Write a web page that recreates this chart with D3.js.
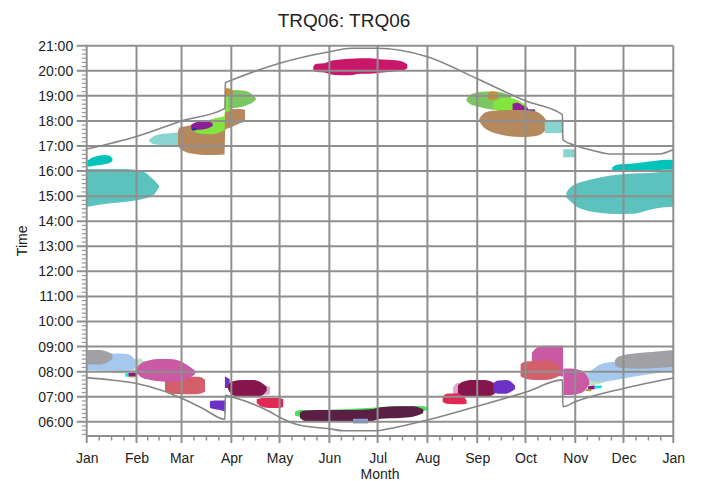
<!DOCTYPE html>
<html><head><meta charset="utf-8">
<script src="https://cdn.jsdelivr.net/npm/d3@7"></script>
<style>
body{margin:0;background:#fff}
text{font-family:"Liberation Sans",Arial,Helvetica,sans-serif;fill:#222}
</style>
</head><body>
<svg id="chart" width="702" height="481"></svg>
<script>
// ---------- data ----------
const title = "TRQ06: TRQ06";
const monthLabels = ["Jan","Feb","Mar","Apr","May","Jun","Jul","Aug","Sep","Oct","Nov","Dec","Jan"];
const hourTicks = [6,7,8,9,10,11,12,13,14,15,16,17,18,19,20,21];

// [day of year, hour]
const sunset = [[0,16.88],[31,17.38],[59,18.0],[86,18.5],[86.3,19.52],[90,19.62],[120,20.3],[151,20.76],[165,20.9],[181,20.9],[195,20.82],[212,20.56],[243,19.68],[273,18.8],[296,18.25],[296.3,17.25],[304,17.02],[315,16.82],[327,16.68],[356,16.68],[365,16.86]];
const sunrise = [[0,7.76],[15,7.67],[31,7.53],[46,7.27],[59,6.94],[72,6.54],[86,6.1],[86.3,7.06],[90,7.0],[114,6.4],[120,6.18],[132,5.87],[151,5.72],[160,5.64],[180,5.64],[188,5.72],[212,6.07],[243,6.62],[274,7.2],[296,7.67],[296.3,6.6],[304,6.8],[334,7.33],[365,7.75]];

// glare periods: [day of year, start hour, end hour]
const eveJanTeal = [[0,14.57,16.08],[10,14.68,16.08],[20,14.75,16.08],[27,14.8,16.07],[33,14.86,16.0],[37.3,14.93,15.9],[39.4,14.98,15.77],[42.5,15.11,15.6],[43.6,15.2,15.52],[45,15.36,15.42]];
const eveJanCyan = [[0.4,16.17,16.41],[4,16.2,16.55],[8,16.24,16.62],[11,16.27,16.64],[14.5,16.33,16.6],[16,16.4,16.5]];
const eveFebLightTeal = [[39,17.17,17.26],[42,17.07,17.4],[47,17.04,17.48],[53,17.04,17.52],[58,17.05,17.55],[61,17.1,17.55]];
const eveMarBrown = [[56.8,17.0,17.6],[58,16.9,17.75],[61,16.78,17.78],[67,16.68,17.85],[74,16.64,17.9],[80,16.64,17.95],[85.8,16.66,18.0],[86.2,17.66,18.46],[90,17.75,18.48],[95,17.9,18.48],[98.5,17.97,18.45]];
const eveMarGreen = [[66,17.6,17.72],[70,17.5,17.9],[77,17.47,18.06],[83,17.55,18.15],[85.8,17.65,18.2],[86.2,18.35,18.95],[89,18.4,18.92],[90,18.55,18.8]];
const eveMarPurple = [[65,17.68,17.85],[68,17.64,17.95],[72,17.66,17.98],[76,17.72,17.98],[78.4,17.8,17.9]];
const eveMarBlue = [[65.5,17.62,17.72],[68,17.62,17.7]];
const eveAprLightGreen = [[88,18.5,19.15],[92,18.52,19.23],[98.5,18.6,19.2],[103,18.72,19.05],[105.3,18.85,18.9]];
const eveAprGold = [[86.2,18.95,19.3],[88,18.97,19.3],[91,19.0,19.2]];
const eveJunCrimson = [[141,20.0,20.18],[143,19.95,20.28],[148,19.93,20.3],[152,19.85,20.4],[158,19.82,20.45],[164,19.82,20.48],[170,19.88,20.5],[176,19.88,20.5],[184,19.93,20.45],[192,19.98,20.42],[197,20.02,20.35],[199.5,20.1,20.25]];
const eveSepLightGreen = [[236.4,18.78,18.88],[239,18.65,19.05],[243,18.58,19.13],[248,18.5,19.17],[254,18.45,19.17],[260,18.45,19.1],[264,18.5,19.0]];
const eveSepGold = [[249.5,18.88,19.1],[252,18.83,19.18],[256,18.9,19.12]];
const eveSepGreen = [[253,18.5,18.72],[256,18.4,18.85],[260,18.32,18.92],[265,18.28,18.9],[270,18.3,18.75],[274.6,18.42,18.55]];
const eveSepPurple = [[265,18.42,18.68],[268,18.32,18.72],[271,18.3,18.62],[275,18.28,18.48]];
const eveSepBlue = [[275,18.3,18.46],[279,18.3,18.46]];
const eveSepBrown = [[244.3,17.98,18.1],[247,17.75,18.3],[250,17.62,18.38],[255,17.5,18.42],[262,17.4,18.44],[270,17.36,18.44],[277,17.38,18.42],[282,17.45,18.3],[285,17.6,18.12],[287.2,17.8,17.9]];
const eveOctLightTeal = [[285,17.52,18.0],[290,17.52,18.05],[296.5,17.52,18.05]];
const eveNovLightTeal = [[296.5,16.55,16.87],[304,16.55,16.87]];
const eveNovTeal = [[298.5,14.95,15.15],[301,14.8,15.35],[305,14.58,15.5],[310,14.45,15.6],[320,14.33,15.75],[330,14.29,15.85],[340,14.3,15.9],[350,14.45,15.92],[358,14.55,15.96],[365,14.58,15.97]];
const eveNovCyan = [[327,16.0,16.15],[330,15.97,16.25],[340,15.97,16.3],[350,16.0,16.38],[358,16.05,16.44],[365,16.05,16.45]];

const mornJanPaleGreen = [[16,7.95,8.02],[24,7.93,8.3],[28,7.93,8.5],[33,7.96,8.52],[36.3,8.1,8.35]];
const mornJanLightBlue = [[0,8.06,8.3],[12,8.04,8.6],[17,8.04,8.72],[25,8.04,8.7],[29,8.1,8.55],[30.5,8.2,8.38]];
const mornJanGray = [[0.4,8.3,8.86],[8,8.28,8.86],[12.5,8.35,8.8],[16,8.5,8.7]];
const mornFebRose = [[48.7,7.25,7.65],[52,7.12,7.72],[60,7.1,7.78],[68,7.1,7.8],[71,7.13,7.78],[73.6,7.2,7.68]];
const mornFebPink = [[31,7.95,8.15],[34,7.78,8.33],[39,7.68,8.45],[45,7.62,8.5],[52,7.6,8.5],[58,7.62,8.42],[63,7.72,8.25],[67.4,7.9,8.05]];
const mornJanCyan = [[24,7.8,7.93],[26,7.8,7.93]];
const mornJanMagenta = [[26,7.8,7.95],[31,7.8,7.95]];
const mornJanOlive = [[27,7.77,7.82],[31,7.77,7.82]];
const mornMarViolet = [[76.7,6.55,6.82],[80,6.5,6.85],[84,6.45,6.85],[86,6.4,6.85]];
const mornAprViolet = [[86,7.35,7.82],[89,7.35,7.7]];
const mornAprLightPink = [[108,7.05,7.45],[114,7.1,7.4]];
const mornAprMaroon = [[88,7.3,7.5],[91,7.05,7.62],[97,7.0,7.67],[104,7.0,7.67],[109,7.05,7.55],[112,7.25,7.4]];
const mornAprRed = [[105.8,6.75,6.9],[109,6.6,6.95],[114,6.55,6.95],[120,6.55,6.95],[122.3,6.6,6.9]];
const mornJunGreen = [[129.6,6.25,6.4],[133,6.2,6.47],[150,6.2,6.48],[175,6.25,6.55],[195,6.3,6.63],[208,6.4,6.63],[212.6,6.48,6.58]];
const mornJunDark = [[132.7,6.15,6.38],[136,6.03,6.45],[150,6.0,6.47],[165,6.0,6.47],[177,6.02,6.5],[183,6.12,6.58],[195,6.15,6.62],[203,6.2,6.62],[209.4,6.35,6.5]];
const mornJunBlue = [[165.7,5.93,6.12],[175,5.93,6.12]];
const mornAugLightPink = [[228,7.15,7.4],[231,7.1,7.55],[236,7.15,7.55]];
const mornAugMaroon = [[231,7.15,7.45],[234,7.02,7.6],[240,7.0,7.67],[247,7.0,7.67],[252,7.05,7.6],[255,7.2,7.45]];
const mornAugRed = [[221.5,6.8,7.0],[224,6.72,7.12],[230,6.7,7.14],[234,6.7,7.05],[236.4,6.72,6.85]];
const mornSepViolet = [[253,7.2,7.55],[256,7.12,7.65],[261,7.12,7.67],[264,7.2,7.6],[266.5,7.3,7.45]];
const mornOctPink = [[277,8.35,8.75],[280,8.2,8.95],[284,8.0,9.03],[290,7.9,9.03],[296.4,7.8,9.03]];
const mornOctRose = [[270,7.82,8.3],[273,7.72,8.4],[280,7.67,8.42],[287,7.68,8.45],[294.5,7.85,8.2]];
const mornNovPaleGreen = [[308,7.5,7.9],[313,7.45,7.98],[318,7.5,8.0],[323,7.6,7.95]];
const mornNovLightBlue = [[311,7.72,7.9],[315,7.62,8.1],[320,7.6,8.3],[330,7.68,8.4],[340,7.8,8.45],[350,7.9,8.55],[358,7.98,8.6],[365,8.02,8.6]];
const mornDecGray = [[328.7,8.3,8.45],[331,8.17,8.6],[342,8.12,8.73],[355,8.15,8.8],[365,8.2,8.86]];
const mornNovPink = [[296.6,7.07,8.13],[301,7.07,8.13],[306,7.12,8.08],[310,7.25,7.95],[312.7,7.5,7.65]];
const mornNovCyan = [[316,7.32,7.44],[320.5,7.35,7.45]];
const mornNovMagenta = [[312,7.28,7.42],[316,7.3,7.45]];
const mornNovOlive = [[310.5,7.22,7.3],[314,7.22,7.3]];

// drawing order (back to front) with colours
const layers = [
  [eveJanTeal,"#5bc2bd"],[eveJanCyan,"#00c3b9"],
  [eveFebLightTeal,"#88d4ce"],[eveMarBrown,"#b5885e"],[eveMarGreen,"#82e53c"],[eveMarPurple,"#8c1f98"],[eveMarBlue,"#2233aa"],
  [eveAprLightGreen,"#7dc763"],[eveAprGold,"#c8902c"],
  [eveJunCrimson,"#c9176a"],
  [eveSepLightGreen,"#7dc763"],[eveSepGold,"#c8902c"],[eveSepGreen,"#82e53c"],[eveSepPurple,"#8c1f98"],[eveSepBlue,"#2233aa"],[eveSepBrown,"#b5885e"],
  [eveOctLightTeal,"#88d4ce"],[eveNovLightTeal,"#88d4ce"],[eveNovTeal,"#5bc2bd"],[eveNovCyan,"#00c3b9"],
  [mornJanPaleGreen,"#c2e2bf"],[mornJanLightBlue,"#a5c9ee"],[mornJanGray,"#a0a0a5"],[mornFebRose,"#d25f6a"],[mornFebPink,"#c95aa3"],
  [mornJanCyan,"#00e8f0"],[mornJanMagenta,"#8a1a7a"],[mornJanOlive,"#a0a030"],
  [mornMarViolet,"#6c32c8"],[mornAprViolet,"#6c32c8"],[mornAprLightPink,"#e1a7d1"],[mornAprMaroon,"#85154c"],[mornAprRed,"#e02a55"],
  [mornJunGreen,"#44e35a"],[mornJunDark,"#5b1e45"],[mornJunBlue,"#7fa7dc"],
  [mornAugLightPink,"#e1a7d1"],[mornAugMaroon,"#85154c"],[mornAugRed,"#e02a55"],[mornSepViolet,"#6c32c8"],
  [mornOctPink,"#c95aa3"],[mornOctRose,"#d25f6a"],
  [mornNovPaleGreen,"#c2e2bf"],[mornNovLightBlue,"#a5c9ee"],[mornDecGray,"#a0a0a5"],[mornNovPink,"#c95aa3"],
  [mornNovCyan,"#00e8f0"],[mornNovMagenta,"#8a1a7a"],[mornNovOlive,"#a0a030"]
];

// ---------- chart ----------
const svg = d3.select("#chart");
const L = 86.7, R = 673.3, T = 45.7, B = 436;
const t0 = new Date(Date.UTC(2023,0,1)), t1 = new Date(Date.UTC(2024,0,1));
const toDate = d => new Date(t0.getTime() + d*864e5);
const x = d3.scaleUtc().domain([t0,t1]).range([L,R]);
const y = d3.scaleLinear().domain([5 + 26/60, 21]).range([B,T]);
const gridCol = "#8f8f8f";

const monthStarts = d3.utcMonth.range(t0, d3.utcDay.offset(t1,1));

// glare areas
const area = d3.area().x(d=>x(toDate(d[0]))).y0(d=>y(d[1])).y1(d=>y(d[2])).curve(d3.curveMonotoneX);
svg.append("g").selectAll("path").data(layers).join("path")
  .attr("d", d=>area(d[0])).attr("fill", d=>d[1]);

// grid
const grid = svg.append("g").attr("stroke", gridCol).attr("stroke-width", 2);
grid.selectAll("line.h").data(hourTicks).join("line")
  .attr("x1", L-10).attr("x2", R).attr("y1", d=>y(d)).attr("y2", d=>y(d));
grid.selectAll("line.v").data(monthStarts).join("line")
  .attr("x1", d=>x(d)).attr("x2", d=>x(d)).attr("y1", T).attr("y2", B+7);
grid.append("line").attr("x1", L).attr("x2", R).attr("y1", B).attr("y2", B);

// minor ticks
const minorX = [];
monthStarts.slice(0,12).forEach(m => {
  const n = d3.utcMonth.offset(m,1);
  for (let k=1;k<4;k++) minorX.push(new Date(m.getTime() + (n-m)*k/4));
});
svg.append("g").attr("stroke", "#8f8f8f").attr("stroke-width", 1.5)
  .selectAll("line").data(minorX).join("line")
  .attr("x1", d=>x(d)).attr("x2", d=>x(d)).attr("y1", B).attr("y2", B+4.5);
const minorY = d3.range(0, 94).map(i => 5.5 + i/6).filter(h => h <= 21 && Math.abs(h - Math.round(h)) > 0.01);
svg.append("g").attr("stroke", "#999").attr("stroke-width", 1.2)
  .selectAll("line").data(minorY).join("line")
  .attr("x1", L-5).attr("x2", L).attr("y1", d=>y(d)).attr("y2", d=>y(d));

// sun lines
const line = d3.line().x(d=>x(toDate(d[0]))).y(d=>y(d[1])).curve(d3.curveMonotoneX);
svg.append("path").attr("d", line(sunset)).attr("fill","none").attr("stroke","#858585").attr("stroke-width",1.6);
svg.append("path").attr("d", line(sunrise)).attr("fill","none").attr("stroke","#858585").attr("stroke-width",1.6);

// axes labels via d3 axes (domain hidden, grid drawn above)
const xAxis = d3.axisBottom(x).tickValues(monthStarts).tickFormat((d,i)=>monthLabels[i]).tickSize(0).tickPadding(17);
const gx = svg.append("g").attr("transform", `translate(0,${B})`).call(xAxis);
gx.select(".domain").remove();
gx.selectAll("text").style("font-size","14px").attr("fill","#222");

const yAxis = d3.axisLeft(y).tickValues(hourTicks).tickFormat(h => String(h).padStart(2,"0")+":00").tickSize(0).tickPadding(13.5);
const gy = svg.append("g").attr("transform", `translate(${L},0)`).call(yAxis);
gy.select(".domain").remove();
gy.selectAll("text").style("font-size","14px").attr("fill","#222");

// titles
svg.append("text").attr("x", 344).attr("y", 27).attr("text-anchor","middle").style("font-size","19px").text(title);
svg.append("text").attr("x", (L+R)/2).attr("y", 479).attr("text-anchor","middle").style("font-size","14px").text("Month");
svg.append("text").attr("transform", `translate(27,${(T+B)/2}) rotate(-90)`).attr("text-anchor","middle").style("font-size","14px").text("Time");
</script>
</body></html>
